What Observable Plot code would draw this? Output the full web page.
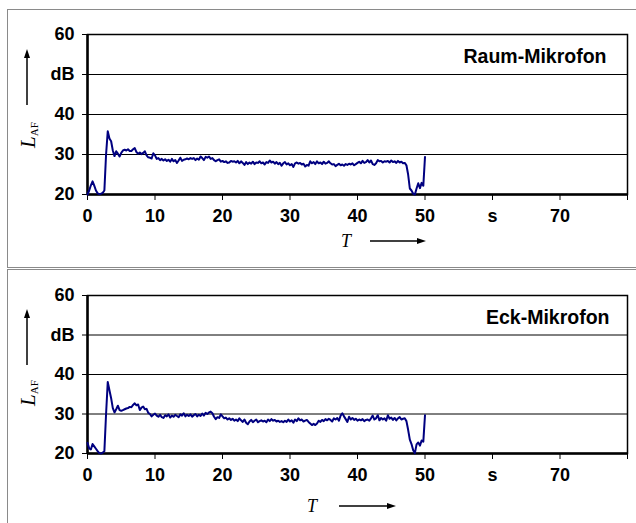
<!DOCTYPE html>
<html>
<head>
<meta charset="utf-8">
<script src="https://cdn.jsdelivr.net/npm/d3@7"></script>
<script src="https://cdn.jsdelivr.net/npm/@observablehq/plot@0.6"></script>
<style>
  html, body { margin: 0; padding: 0; background: #fff; }
  #page { position: relative; width: 636px; height: 523px; overflow: hidden; }
  .frame { position: absolute; left: 7px; width: 700px; border: 1.5px solid #8a8a8a; border-right: none; box-sizing: border-box; }
  .panel { position: absolute; left: 0; }
  .panel svg text { font-weight: bold; }
</style>
</head>
<body>
<div id="page">
  <div class="frame" style="top:9px;height:259px;"></div>
  <div class="frame" style="top:269px;height:300px;"></div>
  <div class="panel" id="p1" style="top:0px;"></div>
  <div class="panel" id="p2" style="top:260px;"></div>
</div>
<script>
// sampling interval of the level recordings (s)
const dt = 0.25;

// L_AF in dB, Raum-Mikrofon, one value every 0.25 s from 0 to 50 s
const raum = [
  20.0, 21.0, 22.3, 23.3, 22.2, 21.0, 20.3, 20.1,
  20.2, 20.4, 21.0, 30.0, 35.8, 34.0, 33.3, 31.0,
  29.6, 30.8, 30.2, 29.5, 30.4, 31.0, 31.2, 31.0,
  31.3, 30.9, 30.9, 31.3, 31.6, 30.6, 30.2, 30.5,
  30.1, 30.4, 30.8, 29.8, 29.3, 29.2, 29.0, 30.3,
  29.8, 28.9, 29.1, 28.6, 28.9, 28.5, 28.8, 28.4,
  28.7, 28.2, 28.9, 28.3, 28.6, 27.9, 28.5, 29.2,
  28.4, 28.7, 28.8, 29.0, 28.8, 29.1, 28.9, 29.1,
  28.6, 29.0, 28.7, 29.5, 29.1, 28.6, 29.4, 29.2,
  29.5, 28.9, 29.1, 28.6, 28.3, 28.6, 28.8, 28.2,
  28.4, 28.1, 28.3, 27.9, 28.0, 28.4, 28.2, 28.3,
  28.0, 28.4, 27.8, 28.3, 27.9, 27.4, 28.1, 27.6,
  28.0, 27.7, 28.2, 27.6, 28.0, 27.9, 28.3, 27.8,
  28.0, 27.5, 28.1, 27.9, 28.5, 28.0, 28.2, 27.7,
  28.1, 27.6, 27.9, 27.2, 27.8, 28.1, 27.5, 27.8,
  27.3, 27.6, 26.9, 27.8, 28.0, 27.7, 27.9, 27.5,
  27.7, 27.0, 27.4, 27.2, 28.3, 27.8, 28.1, 27.6,
  28.3, 27.8, 28.0, 27.6, 28.2, 27.7, 27.9, 28.3,
  27.8, 27.5, 27.6, 27.1, 27.4, 27.7, 27.3, 27.5,
  27.2, 27.6, 27.4, 27.7, 27.5, 27.8, 27.3, 27.6,
  27.9, 28.2, 27.8, 28.4, 27.9, 28.1, 28.6, 28.0,
  28.5, 27.6, 27.4, 27.8, 28.6, 28.3, 28.4, 28.0,
  28.3, 28.2, 28.4, 28.0, 28.5, 28.1, 28.3, 27.9,
  28.4, 28.0, 28.2, 27.8, 27.9, 27.3, 25.0, 21.5,
  21.0, 20.2, 20.0, 21.5, 22.8, 21.6, 22.9, 22.2,
  29.4
];

// L_AF in dB, Eck-Mikrofon, one value every 0.25 s from 0 to 50 s
const eck = [
  22.7, 21.3, 21.0, 22.4, 21.8, 21.2, 20.6, 20.1,
  20.0, 20.2, 20.6, 30.0, 38.1, 36.0, 34.0, 31.5,
  30.4, 31.2, 32.1, 31.0, 30.8, 31.0, 31.2, 31.4,
  31.5, 31.8, 31.7, 32.3, 32.7, 32.2, 32.4, 31.0,
  31.6, 31.9, 31.2, 31.3, 30.3, 30.0, 29.4, 29.8,
  30.1, 29.6, 29.3, 29.8, 29.2, 29.0, 29.7, 29.4,
  29.9, 29.1, 29.6, 29.3, 29.8, 29.5, 29.2, 29.9,
  29.6, 30.2, 29.4, 29.8, 29.5, 29.9, 29.3, 29.7,
  30.0, 29.4, 29.8, 29.5, 30.1, 29.6, 30.3, 30.0,
  30.4, 30.6, 30.2, 29.3, 28.7, 29.2, 29.0, 29.9,
  29.4, 28.9, 29.1, 28.6, 28.9, 28.5, 28.8, 28.3,
  28.6, 28.2, 28.9, 28.4, 28.0, 28.6, 27.8, 27.4,
  28.1, 28.5, 27.9, 28.3, 28.6, 27.9, 28.2, 28.4,
  28.1, 28.3, 27.9, 28.6, 28.2, 28.7, 28.3, 28.5,
  28.1, 28.3, 28.0, 28.2, 27.9, 28.3, 28.0, 28.6,
  28.1, 28.4, 27.8, 28.6, 28.2, 28.9, 28.4, 28.6,
  28.1, 28.3, 28.5, 28.0, 27.6, 27.2, 27.5, 27.2,
  27.6, 28.3, 28.0, 28.5, 28.2, 28.7, 28.4, 28.8,
  28.5, 28.1, 28.9, 28.6, 29.0, 28.3, 29.6, 30.2,
  29.4, 28.7, 28.0, 29.3, 28.6, 29.0, 28.5, 28.8,
  28.3, 28.6, 28.4, 28.7, 28.2, 28.5, 28.6, 28.3,
  28.9, 29.6, 28.6, 28.9, 29.7, 28.4, 29.0, 28.6,
  28.9, 28.3, 29.7, 28.8, 29.1, 28.5, 29.0, 28.4,
  28.9, 29.2, 28.6, 28.8, 28.9, 28.2, 26.0, 23.5,
  22.4, 20.8, 20.1, 22.3, 22.8, 22.0, 23.3, 23.0,
  29.7
];

const xTicks = [0, 10, 20, 30, 40, 50, 60, 70, 80];
const xTickLabels = ["0", "10", "20", "30", "40", "50", "s", "70", ""];
const yTicks = [20, 30, 40, 50, 60];
const yTickLabels = ["20", "30", "40", "dB", "60"];
const gridValues = [30, 40, 50];
const panelNames = ["Raum-Mikrofon", "Eck-Mikrofon"];

function makePanel(values, name, o) {
  const data = values.map((v, i) => ({t: i * dt, L: v}));
  const chart = Plot.plot({
    width: 636,
    height: o.height,
    marginLeft: 87,
    marginRight: 9,
    marginTop: o.mt,
    marginBottom: o.mb,
    x: {domain: [0, 80]},
    y: {domain: [20, 60]},
    style: {background: "transparent", fontFamily: "'Liberation Sans', Arial, sans-serif", color: "#000", overflow: "visible"},
    marks: [
      Plot.ruleY(gridValues, {stroke: "#000", strokeWidth: 1}),
      Plot.frame({stroke: "#000", strokeWidth: 1.5}),
      Plot.axisX({ticks: xTicks, tickSize: 6, tickPadding: 9, tickFormat: d => xTickLabels[xTicks.indexOf(d)], fontSize: 18, label: null}),
      Plot.axisY({ticks: yTicks, tickSize: 5, tickPadding: 8, tickFormat: d => yTickLabels[yTicks.indexOf(d)], fontSize: 18, label: null}),
      Plot.ruleX([0], {stroke: "#000", strokeWidth: 2.5}),
      Plot.ruleY([20], {stroke: "#000", strokeWidth: 2.5}),
      Plot.line(data, {x: "t", y: "L", stroke: "#000080", strokeWidth: 2}),
      Plot.text([name], {frameAnchor: "top-right", dx: o.nameDx, dy: 22, lineAnchor: "middle", textAnchor: "end", fontSize: 19.5})
    ]
  });
  const svg = d3.select(chart);
  // y-axis label L_AF with upward arrow
  const yl = svg.append("text")
    .attr("transform", `translate(35,${o.lY}) rotate(-90)`)
    .attr("text-anchor", "middle")
    .attr("font-family", "'Liberation Serif', 'Times New Roman', serif")
    .style("font-weight", "normal");
  yl.append("tspan").attr("font-style", "italic").attr("font-size", 21).text("L");
  yl.append("tspan").attr("font-size", 11).attr("dy", 3).text("AF");
  svg.append("line").attr("x1", 27).attr("x2", 27).attr("y1", 105).attr("y2", 56)
    .attr("stroke", "#000").attr("stroke-width", 1.5);
  svg.append("path").attr("d", "M27,49 L24,58 L30,58 Z").attr("fill", "#000");
  // x-axis label T with right arrow
  svg.append("text").attr("x", o.tX).attr("y", o.tY)
    .attr("text-anchor", "middle")
    .attr("font-family", "'Liberation Serif', 'Times New Roman', serif")
    .attr("font-style", "italic").attr("font-size", 18)
    .style("font-weight", "normal").text("T");
  svg.append("line").attr("x1", o.aX1).attr("x2", o.aX2 - 6).attr("y1", o.tY - 6).attr("y2", o.tY - 6)
    .attr("stroke", "#000").attr("stroke-width", 1.5);
  svg.append("path").attr("d", `M${o.aX2},${o.tY - 6} L${o.aX2 - 9},${o.tY - 9} L${o.aX2 - 9},${o.tY - 3} Z`).attr("fill", "#000");
  return chart;
}

document.getElementById("p1").appendChild(
  makePanel(raum, panelNames[0], {height: 260, mt: 34, mb: 66, lY: 135, tX: 346, tY: 247, aX1: 370, aX2: 426, nameDx: -21})
);
document.getElementById("p2").appendChild(
  makePanel(eck, panelNames[1], {height: 263, mt: 35, mb: 70, lY: 133, tX: 312, tY: 252, aX1: 339, aX2: 396, nameDx: -18})
);
</script>
</body>
</html>
